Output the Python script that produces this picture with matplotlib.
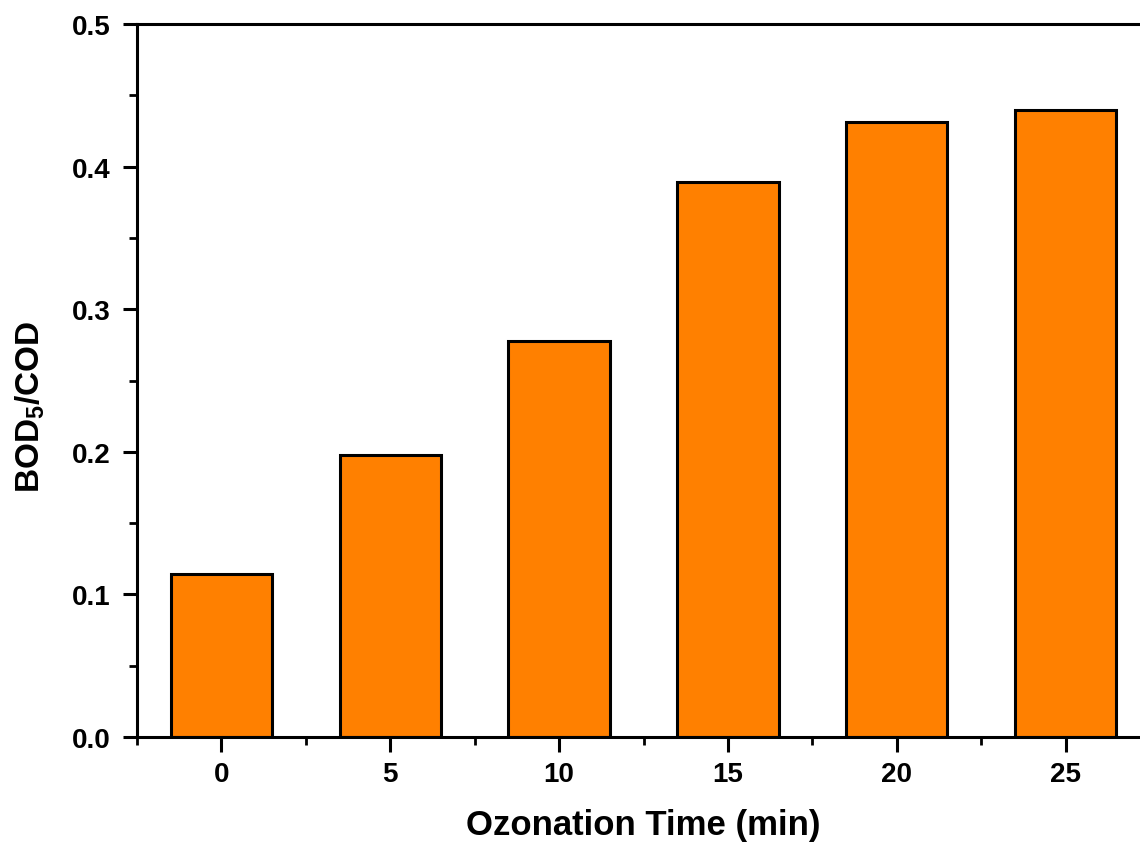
import matplotlib
matplotlib.use("Agg")
import matplotlib.pyplot as plt
from matplotlib.ticker import MultipleLocator

times = [0, 5, 10, 15, 20, 25]
ratio = [0.114, 0.198, 0.278, 0.389, 0.431, 0.440]
xticks = [0, 5, 10, 15, 20, 25]
yticks = [0.0, 0.1, 0.2, 0.3, 0.4, 0.5]

plt.rcParams['font.family'] = ['Liberation Sans', 'DejaVu Sans']
plt.rcParams['font.weight'] = 'bold'
plt.rcParams['mathtext.fontset'] = 'custom'
plt.rcParams['mathtext.rm'] = 'Liberation Sans:bold'
plt.rcParams['mathtext.it'] = 'Liberation Sans:bold'
plt.rcParams['mathtext.bf'] = 'Liberation Sans:bold'

fig = plt.figure(figsize=(11.4, 8.45), dpi=100)
ax = fig.add_axes([137/1140, 1-738/845, (1150-137)/1140, (738-25)/845])

ax.bar(times, ratio, width=3.0, color='#FF8000', edgecolor='black', linewidth=2.2, zorder=2)

ax.set_xlim(-2.5, 27.5)
ax.set_ylim(0, 0.5)
ax.set_xticks(xticks)
ax.set_xticklabels([str(t) for t in xticks])
ax.set_yticks(yticks)
ax.set_yticklabels([f"{v:.1f}" for v in yticks])
ax.xaxis.set_minor_locator(MultipleLocator(2.5))
ax.yaxis.set_minor_locator(MultipleLocator(0.05))

for s in ax.spines.values():
    s.set_linewidth(2.2)
ax.spines['right'].set_visible(False)

ax.tick_params(axis='both', which='major', direction='out', width=2.2, labelsize=20)
ax.tick_params(axis='x', which='major', length=11, pad=6)
ax.tick_params(axis='y', which='major', length=10, pad=9)
ax.tick_params(axis='both', which='minor', direction='out', width=2.0, length=5.5)
ax.tick_params(top=False, right=False, which='both')
for lab in ax.get_xticklabels() + ax.get_yticklabels():
    lab.set_fontweight('bold')

ax.set_xlabel('Ozonation Time (min)', fontsize=25, fontweight='bold')
ax.xaxis.set_label_coords(0.5, -(845 - 738 - 3) / 713)
ax.xaxis.label.set_verticalalignment('bottom')
ax.set_ylabel('BOD$_5$/COD', fontsize=24, fontweight='bold')
ax.yaxis.set_label_coords(-(137 - 47) / 1013, (738 - 407) / 713)

fig.savefig('out.png', dpi=100)
